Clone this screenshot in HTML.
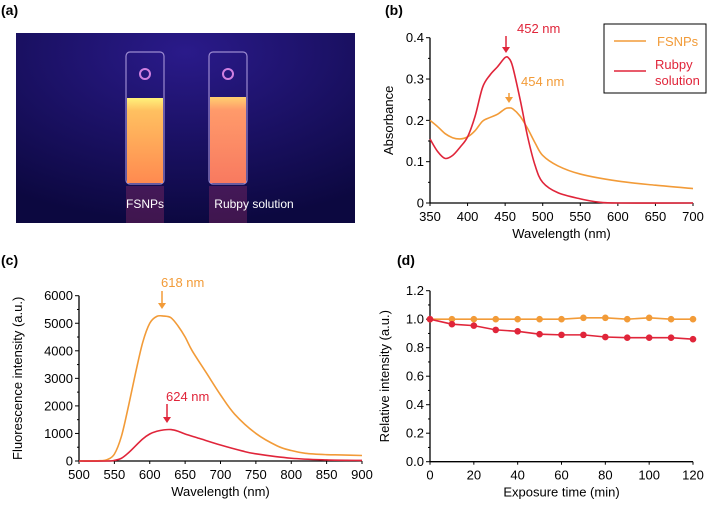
<!DOCTYPE html>
<html><head><meta charset="utf-8"><style>
html,body{margin:0;padding:0;background:#fff;}
svg{display:block;font-family:"Liberation Sans",Arial,sans-serif;}
</style></head><body>
<svg id="fig" width="709" height="505" viewBox="0 0 709 505">
<defs>
<linearGradient id="liqL" x1="0" y1="0" x2="0" y2="1"><stop offset="0" stop-color="#fff27a"/><stop offset="0.15" stop-color="#ffc060"/><stop offset="1" stop-color="#ff8a50"/></linearGradient>
<linearGradient id="liqR" x1="0" y1="0" x2="0" y2="1"><stop offset="0" stop-color="#ffd070"/><stop offset="0.15" stop-color="#ff9a6a"/><stop offset="1" stop-color="#f87a60"/></linearGradient>
<radialGradient id="bg" cx="0.5" cy="0.1" r="0.9"><stop offset="0" stop-color="#2a1a8a"/><stop offset="1" stop-color="#0c0840"/></radialGradient>
</defs>
<text x="1" y="15" font-size="14" font-weight="bold">(a)</text>
<text x="385" y="15" font-size="14" font-weight="bold">(b)</text>
<text x="1" y="265" font-size="14" font-weight="bold">(c)</text>
<text x="397" y="265" font-size="14" font-weight="bold">(d)</text>

<g>
<rect x="16" y="33" width="339" height="190" fill="url(#bg)"/>
<rect x="126" y="186" width="38" height="37" fill="#a0306a" opacity="0.35"/>
<rect x="209" y="186" width="38" height="37" fill="#a0306a" opacity="0.35"/>
<rect x="126" y="52" width="38" height="132" rx="4" fill="none" stroke="#9b8ad0" stroke-width="1.2"/>
<rect x="209" y="52" width="38" height="132" rx="4" fill="none" stroke="#9b8ad0" stroke-width="1.2"/>
<rect x="127" y="98" width="36" height="85" fill="url(#liqL)"/>
<rect x="210" y="97" width="36" height="86" fill="url(#liqR)"/>
<circle cx="145" cy="74" r="5" fill="none" stroke="#d080e0" stroke-width="2"/>
<circle cx="228" cy="74" r="5" fill="none" stroke="#d080e0" stroke-width="2"/>
<text x="145" y="208" font-size="12" fill="#fff" text-anchor="middle">FSNPs</text>
<text x="254" y="208" font-size="12" fill="#fff" text-anchor="middle">Rubpy solution</text>
</g>
<g id="charts"></g>
</svg>
<script>
const bWaveO=[350,360,370,380,390,400,410,420,430,440,450,455,460,470,480,490,500,520,550,600,650,700];
const bAbsO=[0.20,0.185,0.168,0.158,0.155,0.16,0.175,0.198,0.207,0.215,0.228,0.23,0.228,0.21,0.18,0.145,0.115,0.09,0.07,0.053,0.043,0.035];
const bWaveR=[350,360,370,380,390,400,410,420,430,440,450,455,460,470,480,490,500,520,550,575,600,700];
const bAbsR=[0.155,0.125,0.108,0.115,0.135,0.16,0.21,0.28,0.31,0.33,0.352,0.35,0.33,0.25,0.16,0.09,0.05,0.025,0.01,0.002,0,0];
const bXTicks=[350,400,450,500,550,600,650,700];
const bYTicks=[0,0.1,0.2,0.3,0.4];
const bYLabels=["0","0.1","0.2","0.3","0.4"];
const cWaveO=[500,530,540,550,560,570,580,590,600,610,620,630,640,650,660,680,700,720,750,780,800,820,850,870,900];
const cIntO=[0,10,50,250,900,2000,3200,4300,5000,5250,5260,5200,4900,4500,4000,3200,2400,1700,1000,550,380,280,230,220,200];
const cWaveR=[500,540,550,560,570,580,590,600,610,620,630,640,650,670,700,730,750,800,850,900];
const cIntR=[0,0,20,100,300,550,800,980,1080,1130,1140,1080,980,820,580,370,260,100,40,20];
const cXTicks=[500,550,600,650,700,750,800,850,900];
const cYTicks=[0,1000,2000,3000,4000,5000,6000];
const dTime=[0,10,20,30,40,50,60,70,80,90,100,110,120];
const dFSNPs=[1.0,1.0,1.0,1.0,1.0,1.0,1.0,1.01,1.01,1.0,1.01,1.0,1.0];
const dRubpy=[1.0,0.965,0.955,0.925,0.915,0.895,0.89,0.89,0.875,0.87,0.87,0.87,0.86];
const dXTicks=[0,20,40,60,80,100,120];
const dYTicks=[0,0.2,0.4,0.6,0.8,1.0,1.2];
const dYLabels=["0.0","0.2","0.4","0.6","0.8","1.0","1.2"];

const OR="#f29b38", RD="#e0253a";
const NS="http://www.w3.org/2000/svg";
const root=document.getElementById('charts');
function el(t,a,p){const e=document.createElementNS(NS,t);for(const k in a)e.setAttribute(k,a[k]);(p||root).appendChild(e);return e;}
function lin(d0,d1,r0,r1){return v=>r0+(v-d0)/(d1-d0)*(r1-r0);}
function smooth(pts){let d="M"+pts[0][0]+","+pts[0][1];for(let i=0;i<pts.length-1;i++){const p0=pts[i-1]||pts[i],p1=pts[i],p2=pts[i+1],p3=pts[i+2]||p2;const c1x=p1[0]+(p2[0]-p0[0])/6,c1y=p1[1]+(p2[1]-p0[1])/6,c2x=p2[0]-(p3[0]-p1[0])/6,c2y=p2[1]-(p3[1]-p1[1])/6;d+=" C"+c1x+","+c1y+" "+c2x+","+c2y+" "+p2[0]+","+p2[1];}return d;}
function axes(g,x0,x1,y0,y1,xs,ys,xT,yT,yL,xTitle,yTitle,ytx,minor){
  el('line',{x1:x0,y1:y0,x2:x1,y2:y0,stroke:'#000','stroke-width':1.3},g);
  el('line',{x1:x0,y1:y0,x2:x0,y2:y1,stroke:'#000','stroke-width':1.3},g);
  xT.forEach(v=>{el('line',{x1:xs(v),y1:y0,x2:xs(v),y2:y0+3,stroke:'#000'},g);const t=el('text',{x:xs(v),y:y0+18,'font-size':13,'text-anchor':'middle'},g);t.textContent=v;});
  yT.forEach((v,i)=>{el('line',{x1:x0-4,y1:ys(v),x2:x0,y2:ys(v),stroke:'#000'},g);const t=el('text',{x:x0-6,y:ys(v)+4.5,'font-size':13,'text-anchor':'end'},g);t.textContent=yL?yL[i]:v;});
  if(minor){for(let i=0;i<yT.length-1;i++){const m=(yT[i]+yT[i+1])/2;el('line',{x1:x0-2,y1:ys(m),x2:x0,y2:ys(m),stroke:'#000'},g);}}
  const xt=el('text',{x:(x0+x1)/2,y:y0+35,'font-size':13,'text-anchor':'middle'},g);xt.textContent=xTitle;
  const yc=(y0+y1)/2;const yt=el('text',{x:ytx,y:yc,'font-size':13,'text-anchor':'middle',transform:`rotate(-90 ${ytx} ${yc})`},g);yt.textContent=yTitle;
}
const gb=el('g',{});


const bx=lin(350,700,430,693), by=lin(0,0.4,203,37.7);
axes(gb,430,693,203,37.7,bx,by,bXTicks,bYTicks,bYLabels,"Wavelength (nm)","Absorbance",393,true);
const pbO=el('path',{d:smooth(bWaveO.map((w,i)=>[bx(w),by(bAbsO[i])])),fill:'none',stroke:OR,'stroke-width':1.6},gb);


const pbR=el('path',{d:smooth(bWaveR.map((w,i)=>[bx(w),by(bAbsR[i])])),fill:'none',stroke:RD,'stroke-width':1.6},gb);


function arrow(g,x,y1,y2,c){el('line',{x1:x,y1:y1,x2:x,y2:y2-4,stroke:c,'stroke-width':1.5},g);el('path',{d:`M${x-4},${y2-6} L${x+4},${y2-6} L${x},${y2} Z`,fill:c},g);}
function lbl(g,x,y,s,c,n){const t=el('text',{x:x,y:y,'font-size':13,fill:c},g);t.textContent=s;}
arrow(gb,506,36,53,RD);lbl(gb,517,33,"452 nm",RD,'peak-label-452');
arrow(gb,509,93,103,OR);lbl(gb,521,86,"454 nm",OR,'peak-label-454');
const lg=el('g',{},gb);


el('rect',{x:604,y:24,width:102,height:69,fill:'#fff',stroke:'#000','stroke-width':1},lg);
el('line',{x1:614,y1:41,x2:646,y2:41,stroke:OR,'stroke-width':1.6},lg);
el('line',{x1:614,y1:71,x2:646,y2:71,stroke:RD,'stroke-width':1.6},lg);
lbl(lg,657,46,"FSNPs",OR,'legend-fsnps');
lbl(lg,655,69,"Rubpy",RD,'legend-rubpy');
lbl(lg,655,85,"solution",RD,'legend-rubpy-2');
const gc=el('g',{});


const cx=lin(500,900,79,362), cy=lin(0,6000,461,295.7);
axes(gc,79,362,461,295.7,cx,cy,cXTicks,cYTicks,null,"Wavelength (nm)","Fluorescence intensity (a.u.)",22,true);
const pcO=el('path',{d:smooth(cWaveO.map((w,i)=>[cx(w),cy(cIntO[i])])),fill:'none',stroke:OR,'stroke-width':1.6},gc);


const pcR=el('path',{d:smooth(cWaveR.map((w,i)=>[cx(w),cy(cIntR[i])])),fill:'none',stroke:RD,'stroke-width':1.6},gc);


arrow(gc,162,291,309,OR);lbl(gc,161,287,"618 nm",OR,'peak-label-618');
arrow(gc,167,404,423,RD);lbl(gc,166,401,"624 nm",RD,'peak-label-624');
const gd=el('g',{});


const dx=lin(0,120,430,693), dy=lin(0,1.2,461.7,290.7);
axes(gd,430,693,461.7,290.7,dx,dy,dXTicks,dYTicks,dYLabels,"Exposure time (min)","Relative intensity (a.u.)",389,true);
[[dFSNPs,OR,'fsnps'],[dRubpy,RD,'rubpy']].forEach(([arr,c,n])=>{
  const pts=dTime.map((t,i)=>dx(t)+","+dy(arr[i])).join(" ");
  const pl=el('polyline',{points:pts,fill:'none',stroke:c,'stroke-width':1.6},gd);
  
  
  dTime.forEach((t,i)=>{const m=el('circle',{cx:dx(t),cy:dy(arr[i]),r:3.3,fill:c},gd);
    
    });
});
</script>
</body></html>
